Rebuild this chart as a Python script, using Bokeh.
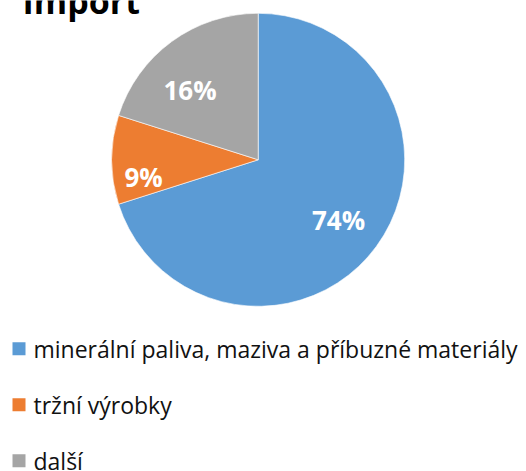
import numpy as np
from bokeh.plotting import figure
from bokeh.models import Range1d, ColumnDataSource
from bokeh.core.properties import value
from bokeh.embed import file_html
from bokeh.resources import INLINE

# ---- data ----
title = "Import"
categories = ["minerální paliva, maziva a příbuzné materiály", "tržní výrobky", "další"]
slice_shares = [70.1, 9.8, 20.1]          # shares as drawn
pct_labels = ["74%", "9%", "16%"]          # printed data labels
colors = ["#5B9BD5", "#ED7D31", "#A5A5A5"]

# ---- layout (pixel space, y measured from top of the picture) ----
W, H = 526, 471
CX, CY, R = 257.7, 159.3, 146.5
label_rf = [0.687, 0.791, 0.664]
label_nudge_deg = [-0.9, 8.5, 8.3]
leg_x, leg_y0, leg_dy, leg_sq = 18.5, 348.3, 56.0, 13

def Y(y):
    return H - y

shares = np.array(slice_shares, dtype=float) / sum(slice_shares)
cum = np.concatenate([[0.0], np.cumsum(shares)])
start = np.pi / 2 - cum[:-1] * 2 * np.pi
end = np.pi / 2 - cum[1:] * 2 * np.pi
mid = (start + end) / 2

p = figure(width=W, height=H, x_range=Range1d(0, W), y_range=Range1d(0, H),
           x_axis_type=None, y_axis_type=None, toolbar_location=None,
           output_backend="svg", min_border=0, outline_line_color=None,
           background_fill_color="white", border_fill_color="white")

wsrc = ColumnDataSource(dict(start=start, end=end, color=colors))
p.wedge(x=CX, y=Y(CY), radius=R, start_angle="start", end_angle="end",
        direction="clock", fill_color="color", line_color="white",
        line_width=0.6, source=wsrc)

ang = mid + np.deg2rad(label_nudge_deg)
lx = CX + np.array(label_rf) * R * np.cos(ang)
ly = Y(CY) + np.array(label_rf) * R * np.sin(ang)
p.text(x=lx, y=ly, text=pct_labels, text_color="white",
       text_font=value("Open Sans"), text_font_style="bold",
       text_font_size="26px", text_align="center", text_baseline="middle")

# title (cut off at the top edge, as in the reference)
p.text(x=[22], y=[Y(0)], text=[title], text_color="black",
       text_font=value("Open Sans"), text_font_style="bold",
       text_font_size="34px", text_align="left", text_baseline="middle")

# legend
ly_leg = [leg_y0 + i * leg_dy for i in range(len(categories))]
p.scatter(x=[leg_x] * len(categories), y=[Y(v) for v in ly_leg], marker="square",
          size=leg_sq, fill_color=colors, line_color=None)
p.text(x=[33] * len(categories), y=[Y(v) for v in ly_leg], text=categories,
       text_color="#111111", text_font=value("Open Sans"), text_font_size="23px",
       text_align="left", text_baseline="middle")

open("out.html", "w").write(file_html(p, INLINE))
